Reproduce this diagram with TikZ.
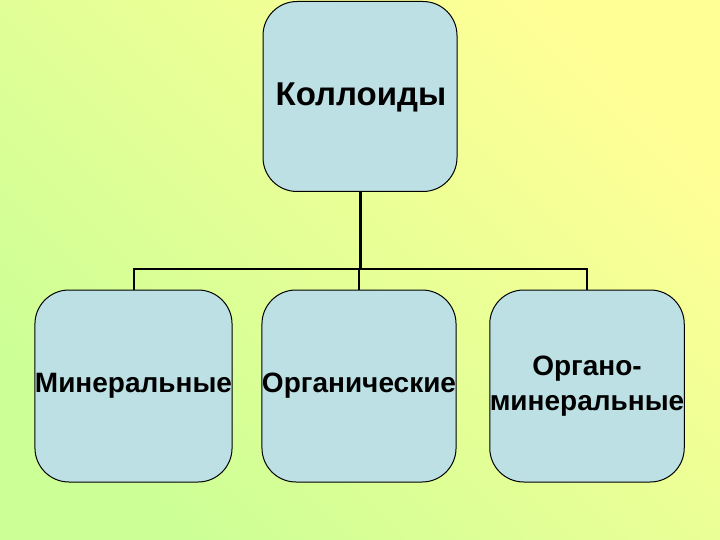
\documentclass[tikz,border=0pt]{standalone}
\usepackage{fontspec}
\setmainfont{Liberation Sans}
\definecolor{bgyellow}{RGB}{255,255,150}
\definecolor{bggreen}{RGB}{204,255,150}
\definecolor{boxfill}{RGB}{188,224,228}
\tikzset{
  kbox/.style={draw=black, line width=1pt, fill=boxfill, rounded corners=34pt,
    minimum width=194pt, minimum height=192pt, inner sep=0pt, align=center,
    font=\fontsize{28}{35}\selectfont\bfseries},
  conn/.style={draw=black, line width=2pt}
}
\begin{document}
\begin{tikzpicture}[x=1pt,y=-1pt]
\useasboundingbox (0,0) rectangle (720,540);
\shade[top color=bgyellow, bottom color=bggreen, shading angle=-45] (0,0) rectangle (720,540);
\node[kbox, minimum height=190pt] (top) at (360,96.5) {};
\node[font=\fontsize{33}{38}\selectfont\bfseries] (toptext) at (361,97) {Коллоиды};
\node[kbox] (b1) at (133.5,386) {\raisebox{-2pt}{Минеральные}};
\node[kbox] (b2) at (359,386) {\raisebox{-2pt}{Органические}};
\node[kbox] (b3) at (587,386) {\raisebox{-3pt}{Органо-}\\\raisebox{-3pt}{минеральные}};
\coordinate (bus) at (360,269);
\draw[conn, line width=3pt] (top.south) -- (top.south |- bus);
\draw[conn] (b1.north) -- (b1.north |- bus) -- (b3.north |- bus) -- (b3.north);
\draw[conn] (b2.north) -- (b2.north |- bus);
\end{tikzpicture}
\end{document}
